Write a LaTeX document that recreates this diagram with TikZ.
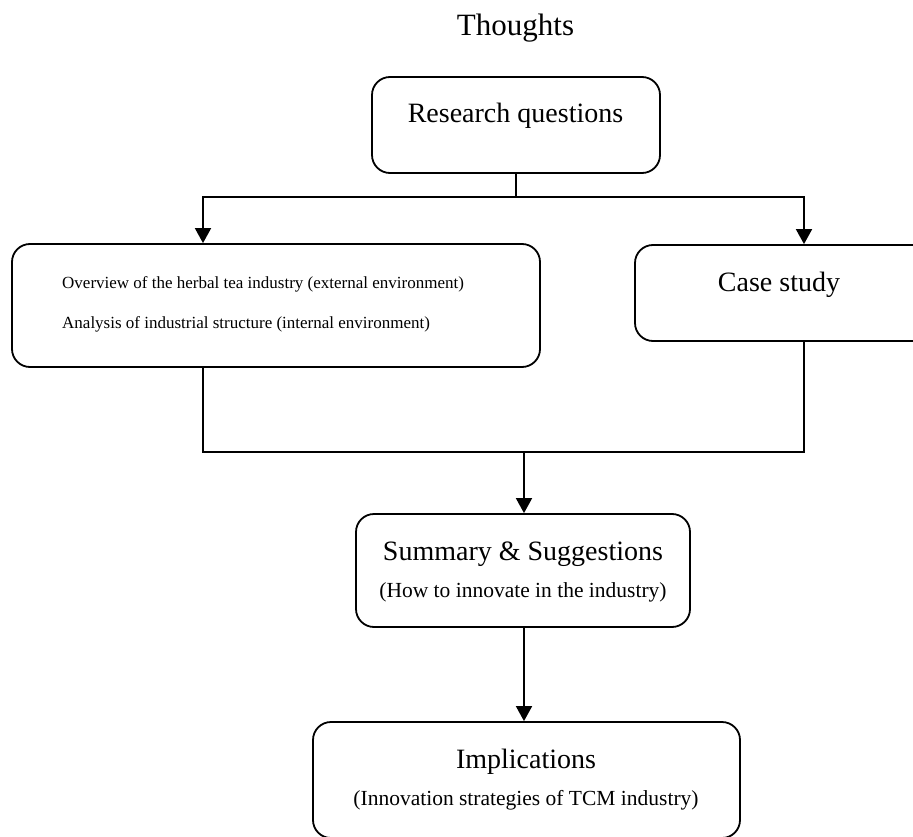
\documentclass[tikz,border=0pt]{standalone}
\usepackage{fontspec}
\setmainfont{Liberation Serif}
\usetikzlibrary{arrows.meta}

\tikzset{
  box/.style={draw, line width=1.8pt, rounded corners=18pt, inner sep=0pt},
  wire/.style={line width=1.8pt},
  flow/.style={line width=1.8pt, -{Triangle[length=15pt,width=16pt]}},
  big/.style={font=\fontsize{28}{32}\selectfont, anchor=base, inner sep=0pt},
  mid/.style={font=\fontsize{21.5}{25}\selectfont, anchor=base, inner sep=0pt},
  small/.style={font=\fontsize{17}{20}\selectfont, anchor=base west, inner sep=0pt},
}

\begin{document}
\begin{tikzpicture}[x=1pt, y=-1pt]
\clip (0,0) rectangle (913,837);
\useasboundingbox (0,0) rectangle (913,837);

% title
\node[big, font=\fontsize{31}{35}\selectfont] (title) at (515.5,36) {Thoughts};

% boxes (the case study box runs past the right margin)
\node[box, minimum width=288pt, minimum height=96pt] (rq) at (516,125) {};
\node[box, minimum width=528pt, minimum height=123pt] (env) at (276,305.5) {};
\node[box, minimum width=305pt, minimum height=96pt] (case) at (787.5,293) {};
\node[box, minimum width=334pt, minimum height=113pt] (sum) at (523,570.5) {};
\node[box, minimum width=427pt, minimum height=116pt] (imp) at (526.5,780) {};

% texts
\node[big] (rqt) at (515.5,123) {Research questions};
\node[small] (env1) at (62,288) {Overview of the herbal tea industry (external environment)};
\node[small] (env2) at (62,328) {Analysis of industrial structure (internal environment)};
\node[big] (caset) at (779,291) {Case study};
\node[big] (sumt) at (523,560) {Summary \& Suggestions};
\node[mid] (sumn) at (523,597) {(How to innovate in the industry)};
\node[big] (impt) at (526,768) {Implications};
\node[mid] (impn) at (526,805) {(Innovation strategies of TCM industry)};

% junction points of the branching lines
\coordinate (split) at (516,197);
\coordinate (merge) at (524,452);

% research questions branch to both studies
\draw[wire] (rq.south -| split) -- (split);
\draw[flow] (split) -| (env.north -| 203,0);
\draw[flow] (split) -| (case.north -| 804,0);

% both studies join into the summary
\draw[wire] (env.south -| 203,0) |- (merge) -| (case.south -| 804,0);
\draw[flow] (merge) -- (sum.north -| merge);

% summary leads to implications
\draw[flow] (sum.south -| merge) -- (imp.north -| merge);
\end{tikzpicture}
\end{document}
